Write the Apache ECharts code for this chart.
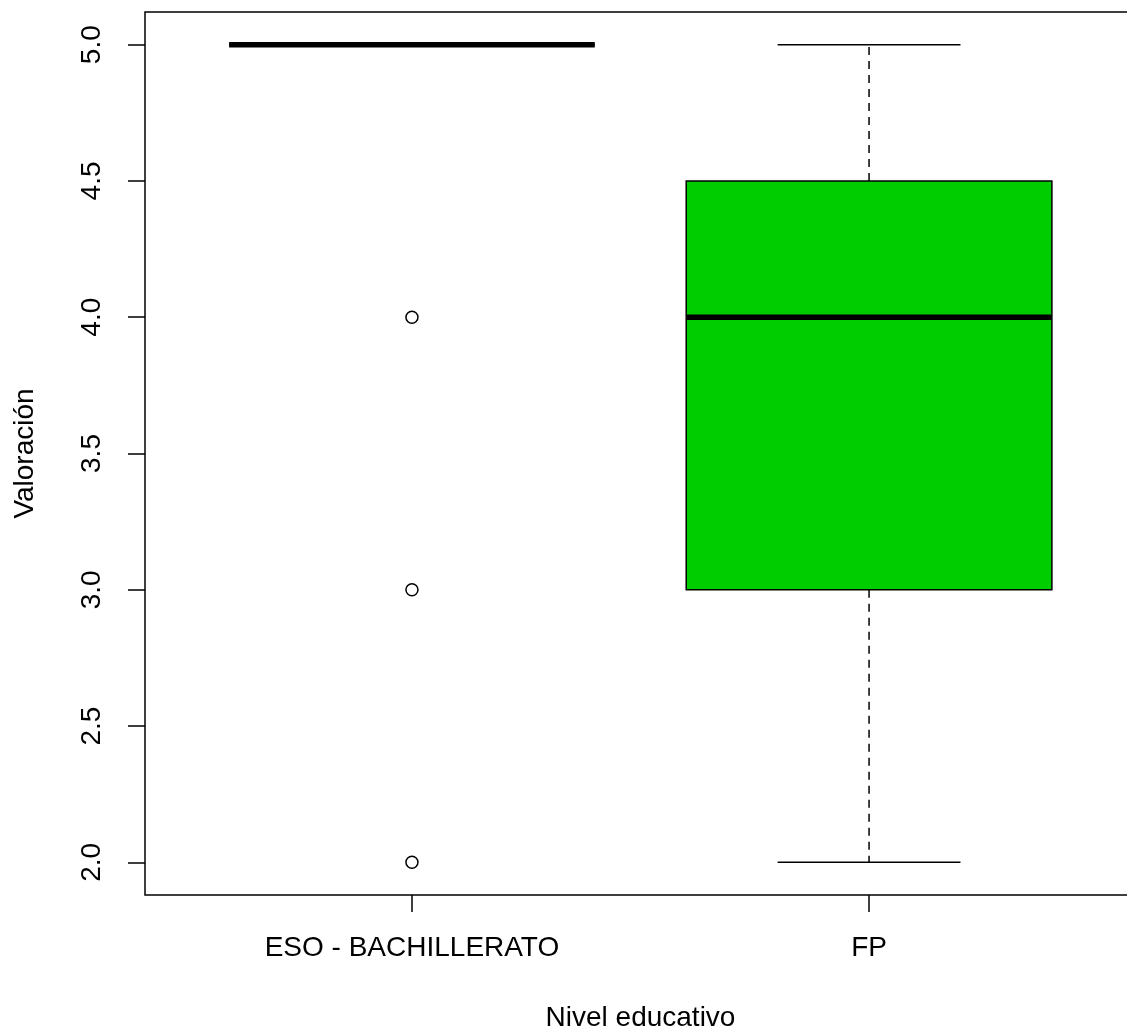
<!DOCTYPE html>
<html>
<head>
<meta charset="utf-8">
<script src="https://cdn.jsdelivr.net/npm/echarts@6/dist/echarts.min.js"></script>
<style>
  html, body { margin: 0; padding: 0; background: #fff; }
  #chart { width: 1127px; height: 1032px; }
</style>
</head>
<body>
<div id="chart"></div>
<script>
// ---- Data ----
const categories = ['ESO - BACHILLERATO', 'FP'];
// [lower whisker, Q1, median, Q3, upper whisker]
const esoStats = [5, 5, 5, 5, 5];
const fpStats = [2, 3, 4, 4.5, 5];
const esoOutliers = [4, 3, 2];
const fpOutliers = [];
const yTicks = [2.0, 2.5, 3.0, 3.5, 4.0, 4.5, 5.0];
const xTicks = [1, 2];
const boxColors = ['#00CD00', '#00CD00'];

const boxData = [
  [1].concat(esoStats),
  [2].concat(fpStats)
];
const outlierData = esoOutliers.map(v => [1, v]).concat(fpOutliers.map(v => [2, v]));

const FONT = '"Liberation Sans", Arial, sans-serif';
const BOX_HALF = 0.4;
const STAPLE_HALF = 0.2;

function renderBox(params, api) {
  const x = api.value(0);
  const lo = api.value(1), q1 = api.value(2), med = api.value(3), q3 = api.value(4), hi = api.value(5);
  const pLo = api.coord([x, lo]);
  const pQ1 = api.coord([x, q1]);
  const pMed = api.coord([x, med]);
  const pQ3 = api.coord([x, q3]);
  const pHi = api.coord([x, hi]);
  const hb = api.size([BOX_HALF, 0])[0];
  const hs = api.size([STAPLE_HALF, 0])[0];
  const cx = pMed[0];
  const lineStyle = { stroke: '#000', lineWidth: 1.5 };
  const dashStyle = { stroke: '#000', lineWidth: 1.5, lineDash: [8, 6] };
  const children = [
    { type: 'line', shape: { x1: cx, y1: pQ3[1], x2: cx, y2: pHi[1] }, style: dashStyle },
    { type: 'line', shape: { x1: cx, y1: pQ1[1], x2: cx, y2: pLo[1] }, style: dashStyle },
    { type: 'line', shape: { x1: cx - hs, y1: pHi[1], x2: cx + hs, y2: pHi[1] }, style: lineStyle },
    { type: 'line', shape: { x1: cx - hs, y1: pLo[1], x2: cx + hs, y2: pLo[1] }, style: lineStyle },
    { type: 'rect', shape: { x: cx - hb, y: pQ3[1], width: 2 * hb, height: pQ1[1] - pQ3[1] },
      style: { fill: boxColors[params.dataIndex], stroke: '#000', lineWidth: 1.5 } },
    { type: 'line', shape: { x1: cx - hb, y1: pMed[1], x2: cx + hb, y2: pMed[1] },
      style: { stroke: '#000', lineWidth: 5.5 } }
  ];
  return { type: 'group', children: children };
}

const chart = echarts.init(document.getElementById('chart'), null, { renderer: 'canvas' });
chart.setOption({
  animation: false,
  backgroundColor: '#ffffff',
  grid: {
    left: 145, top: 12, width: 991, height: 883,
    outerBoundsMode: 'none',
    containLabel: false,
    show: true, borderColor: '#000', borderWidth: 1.5, backgroundColor: 'transparent'
  },
  xAxis: {
    type: 'value',
    min: 0.416, max: 2.584,
    splitLine: { show: false },
    axisLine: { show: false },
    axisTick: { show: true, length: 17, customValues: xTicks, lineStyle: { color: '#000', width: 1.5 } },
    axisLabel: {
      customValues: xTicks,
      margin: 39,
      fontSize: 28, fontFamily: FONT, color: '#000',
      formatter: v => categories[Math.round(v) - 1] || ''
    },
    name: 'Nivel educativo',
    nameLocation: 'middle',
    nameGap: 109,
    nameTextStyle: { fontSize: 28, fontFamily: FONT, color: '#000' }
  },
  yAxis: {
    type: 'value',
    min: 1.88, max: 5.12,
    splitLine: { show: false },
    axisLine: { show: false },
    axisTick: { show: true, length: 17, customValues: yTicks, lineStyle: { color: '#000', width: 1.5 } },
    axisLabel: {
      customValues: yTicks,
      rotate: 90,
      margin: 39,
      fontSize: 28, fontFamily: FONT, color: '#000',
      formatter: v => Number(v).toFixed(1)
    },
    name: 'Valoración',
    nameLocation: 'middle',
    nameGap: 106,
    nameTextStyle: { fontSize: 28, fontFamily: FONT, color: '#000' }
  },
  series: [
    {
      type: 'custom',
      renderItem: renderBox,
      data: boxData,
      encode: { x: 0, y: [1, 2, 3, 4, 5] },
      clip: false,
      z: 2
    },
    {
      type: 'scatter',
      data: outlierData,
      symbol: 'circle',
      symbolSize: 12,
      itemStyle: { color: 'rgba(0,0,0,0)', borderColor: '#000', borderWidth: 1.5, opacity: 1 },
      emphasis: { disabled: true },
      z: 3
    }
  ]
});
</script>
</body>
</html>
